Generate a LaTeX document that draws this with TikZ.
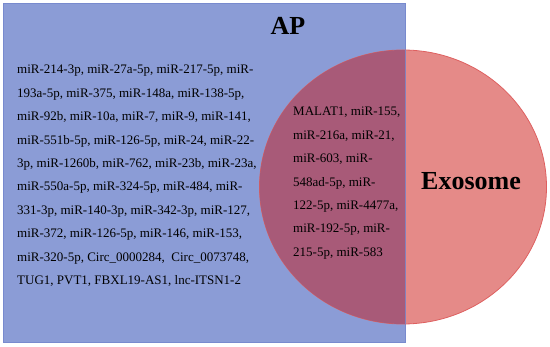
\documentclass[tikz,border=0pt]{standalone}
\usepackage{fontspec}
\setmainfont{Liberation Serif}
\usetikzlibrary{positioning}
\definecolor{apblue}{RGB}{139,156,214}
\definecolor{apedge}{RGB}{120,138,206}
\definecolor{exored}{RGB}{229,138,136}
\definecolor{exoedge}{RGB}{222,96,96}
\definecolor{shared}{RGB}{168,90,120}

\begin{document}
\begin{tikzpicture}[x=1pt, y=-1pt,
    title/.style = {anchor=base, inner sep=0pt, font=\fontsize{26}{30}\selectfont\bfseries},
    glist/.style = {anchor=base west, inner sep=0pt, align=left,
                    font=\fontsize{13}{23.4}\selectfont},
]
\useasboundingbox (0,0) rectangle (550,347);
% the two sets
\fill[apblue, draw=apedge, line width=0.8pt] (3,3) rectangle (405,342);
\fill[exored, draw=exoedge, line width=0.8pt] (403,187) ellipse [x radius=143.5, y radius=137];
\begin{scope}
  \clip (3,3) rectangle (405,342);
  \fill[shared] (403,187) ellipse [x radius=143.5, y radius=137];
\end{scope}
\draw[apedge!80!shared, line width=0.8pt] (405,50) -- (405,324);
% labels (lists are placed by the baseline of their last line)
\node[title] (ap)  at (288,35)  {AP};
\node[title] (exo) at (471,190) {Exosome};
\node[glist] (aplist) at (17,284.6) {miR-214-3p, miR-27a-5p, miR-217-5p, miR-\\
  193a-5p, miR-375, miR-148a, miR-138-5p,\\
  miR-92b, miR-10a, miR-7, miR-9, miR-141,\\
  miR-551b-5p, miR-126-5p, miR-24, miR-22-\\
  3p, miR-1260b, miR-762, miR-23b, miR-23a,\\
  miR-550a-5p, miR-324-5p, miR-484, miR-\\
  331-3p, miR-140-3p, miR-342-3p, miR-127,\\
  miR-372, miR-126-5p, miR-146, miR-153,\\
  miR-320-5p, Circ\_0000284,\ \ Circ\_0073748,\\
  TUG1, PVT1, FBXL19-AS1, lnc-ITSN1-2};
\node[glist] (sharedlist) at (293,256.4) {MALAT1, miR-155,\\
  miR-216a, miR-21,\\
  miR-603, miR-\\
  548ad-5p, miR-\\
  122-5p, miR-4477a,\\
  miR-192-5p, miR-\\
  215-5p, miR-583};
\end{tikzpicture}
\end{document}
